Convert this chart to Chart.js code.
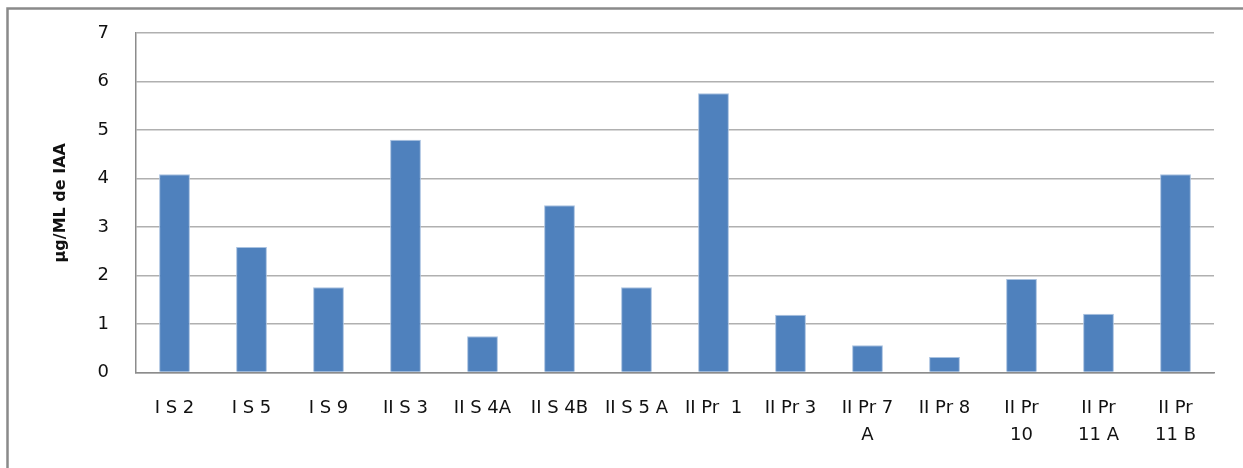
<!DOCTYPE html>
<html>
<head>
<meta charset="utf-8">
<script src="https://cdn.jsdelivr.net/npm/chart.js@4/dist/chart.umd.min.js"></script>
<style>
  html, body { margin: 0; padding: 0; background: #fff; overflow: hidden; }
  #wrap { position: relative; width: 1243px; height: 468px; }
</style>
</head>
<body>
<div id="wrap"><canvas id="iaaChart" width="1243" height="468"></canvas></div>
<script>
// cepas evaluadas y producción de IAA
const cepas = [
  "I S 2", "I S 5", "I S 9", "II S 3", "II S 4A", "II S 4B", "II S 5 A",
  "II Pr  1", "II Pr 3", ["II Pr 7", "A"], "II Pr 8", ["II Pr", "10"],
  ["II Pr", "11 A"], ["II Pr", "11 B"]
];
const iaaValues = [4.09, 2.59, 1.76, 4.8, 0.75, 3.45, 1.76, 5.76, 1.19, 0.56, 0.32, 1.93, 1.21, 4.09];
const yTicks = [0, 1, 2, 3, 4, 5, 6, 7];

const fontFamily = "'DejaVu Sans', sans-serif";

// marco gris alrededor del gráfico
const framePlugin = {
  id: "frame",
  beforeDraw(chart) {
    const ctx = chart.ctx;
    ctx.save();
    ctx.fillStyle = "#fff";
    ctx.fillRect(0, 0, chart.width, chart.height);
    ctx.strokeStyle = "#8a8a8a";
    ctx.lineWidth = 2.5;
    ctx.strokeRect(7.5, 8.5, 1300, 520);
    ctx.restore();
  }
};

new Chart(document.getElementById("iaaChart"), {
  type: "bar",
  data: {
    labels: cepas,
    datasets: [{
      data: iaaValues,
      backgroundColor: "#4F81BD",
      borderColor: "#A9C2E0",
      borderWidth: 1,
      borderSkipped: "bottom",
      barPercentage: 0.8,
      categoryPercentage: 0.5
    }]
  },
  options: {
    responsive: false,
    animation: false,
    layout: { padding: { top: 33, right: 29, bottom: 0, left: 0 } },
    plugins: { legend: { display: false }, tooltip: { enabled: false } },
    scales: {
      x: {
        grid: { display: false, drawTicks: false },
        border: { color: "#8c8c8c", width: 1.5 },
        ticks: {
          color: "#111",
          font: { family: fontFamily, size: 18, lineHeight: 1.5 },
          padding: 22,
          maxRotation: 0,
          autoSkip: false
        },
        afterFit(scale) {
          scale.height = 95.5;
          scale.paddingLeft = 0;
          scale.paddingRight = 0;
        }
      },
      y: {
        min: 0,
        max: 7,
        afterBuildTicks(scale) { scale.ticks = yTicks.map(v => ({ value: v })); },
        grid: { color: "#b0b0b0", lineWidth: 1.5, drawTicks: false },
        border: { color: "#8c8c8c", width: 1.5 },
        ticks: {
          color: "#111",
          font: { family: fontFamily, size: 18 },
          padding: 27
        },
        title: {
          display: true,
          text: "µg/ML de IAA",
          color: "#111",
          font: { family: fontFamily, size: 16, weight: "bold" },
          padding: { top: 51, bottom: 0 }
        },
        afterFit(scale) {
          scale.width = 136;
          scale.paddingTop = 0;
          scale.paddingBottom = 0;
        }
      }
    }
  },
  plugins: [framePlugin]
});
</script>
</body>
</html>
